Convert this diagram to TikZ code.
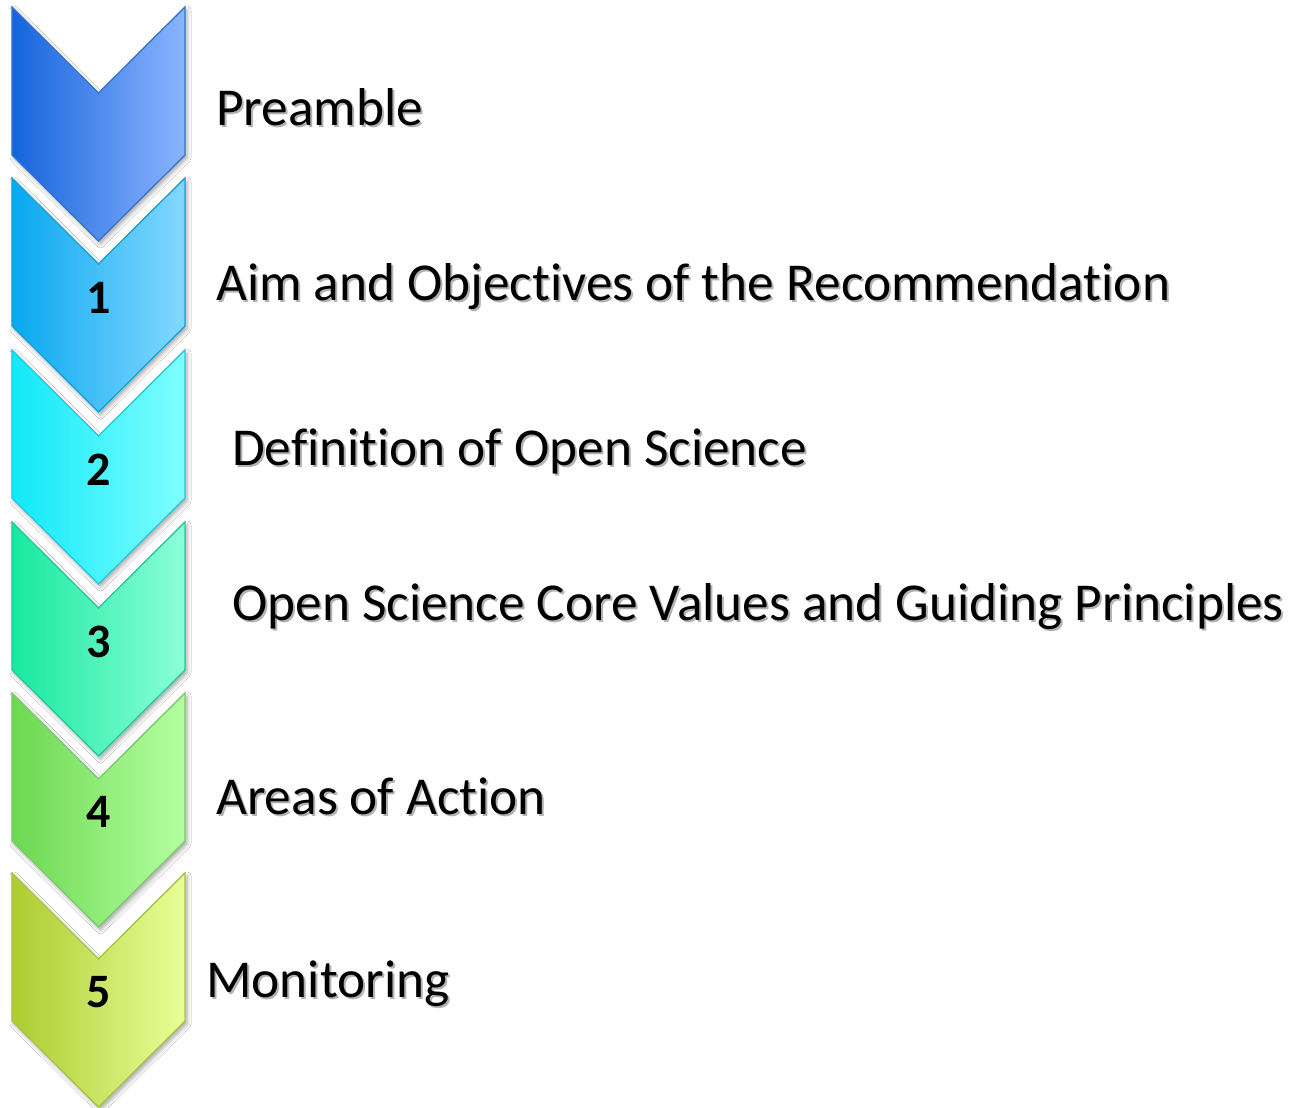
\documentclass[tikz,border=0pt]{standalone}
\usepackage{fontspec}
\setmainfont[Ligatures=NoCommon]{Carlito}
\usetikzlibrary{shadows.blur}
\tikzset{
  chev/.style={line width=1.2pt, line join=miter, shading=axis, shading angle=90,
    blur shadow={shadow xshift=2pt, shadow yshift=-3pt, shadow blur radius=4pt, shadow opacity=35}},
  txt/.style={anchor=base west, inner sep=0pt, font=\fontsize{53.3}{60}\selectfont},
  txtshadow/.style={txt, text=black, opacity=0.3},
  num/.style={anchor=base, inner sep=0pt, font=\fontsize{48}{54}\selectfont\bfseries}
}
\newcommand\mychev[4]{%
  \path[chev, left color=#2, right color=#3, draw=#4]
    (12,#1) -- (98.5,#1+86) -- (185,#1) -- (185,#1+148) -- (98.5,#1+234) -- (12,#1+148) -- cycle;}
\begin{document}
\begin{tikzpicture}[x=1pt,y=-1pt]
\useasboundingbox (0,0) rectangle (1291,1108);
\fill[white] (0,0) rectangle (1291,1108);
\definecolor{l0}{HTML}{1464DC}\definecolor{r0}{HTML}{8CB4FF}\definecolor{b0}{HTML}{2F74D0}
\definecolor{l1}{HTML}{08A8F0}\definecolor{r1}{HTML}{84D8FF}\definecolor{b1}{HTML}{10A0DC}
\definecolor{l2}{HTML}{10E8F8}\definecolor{r2}{HTML}{80FFFF}\definecolor{b2}{HTML}{20C8E0}
\definecolor{l3}{HTML}{18E8A0}\definecolor{r3}{HTML}{8CFFD8}\definecolor{b3}{HTML}{20C8A0}
\definecolor{l4}{HTML}{6CD850}\definecolor{r4}{HTML}{B4FFA0}\definecolor{b4}{HTML}{7CC870}
\definecolor{l5}{HTML}{ACCC30}\definecolor{r5}{HTML}{E8FF98}\definecolor{b5}{HTML}{A8C440}

\mychev{7}{l0}{r0}{b0}
\mychev{178}{l1}{r1}{b1}
\mychev{350}{l2}{r2}{b2}
\mychev{522}{l3}{r3}{b3}
\mychev{693}{l4}{r4}{b4}
\mychev{873}{l5}{r5}{b5}

\node[num] (n1) at (98.5,313) {1};
\node[num] (n2) at (98.5,485) {2};
\node[num] (n3) at (98.5,657) {3};
\node[num] (n4) at (98.5,827) {4};
\node[num] (n5) at (98.5,1007) {5};

\node[txtshadow] (s0) at (218,127.5) {Preamble};
\node[txtshadow] (s1) at (218,302.5) {Aim and Objectives of the Recommendation};
\node[txtshadow] (s2) at (234,467.5) {Definition of Open Science};
\node[txtshadow] (s3) at (234,622.5) {Open Science Core Values and Guiding Principles};
\node[txtshadow] (s4) at (218,816.5) {Areas of Action};
\node[txtshadow] (s5) at (208,999.5) {Monitoring};

\node[txt] (t0) at (216,125) {Preamble};
\node[txt] (t1) at (216,300) {Aim and Objectives of the Recommendation};
\node[txt] (t2) at (232,465) {Definition of Open Science};
\node[txt] (t3) at (232,620) {Open Science Core Values and Guiding Principles};
\node[txt] (t4) at (216,814) {Areas of Action};
\node[txt] (t5) at (206,997) {Monitoring};
\end{tikzpicture}
\end{document}
